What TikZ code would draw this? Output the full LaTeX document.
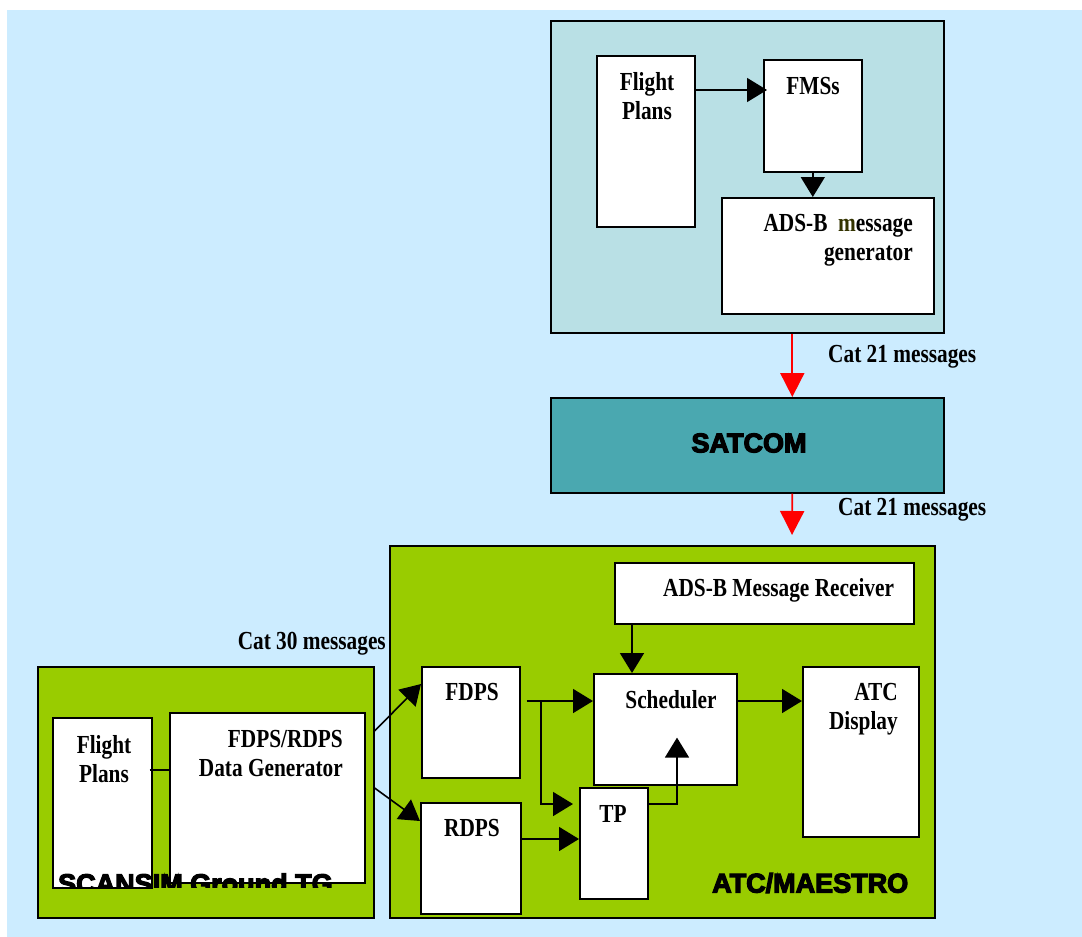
\documentclass[tikz,border=0pt]{standalone}
\usepackage{fontspec}
\usepackage{xcolor}
\usepackage{tikz}
\usetikzlibrary{arrows.meta,positioning,calc}
\newfontfamily\lblfont{Liberation Serif}[FakeStretch=0.82]
\newfontfamily\heavyfont{Liberation Sans}[FakeBold=4.5]
\definecolor{bgblue}{RGB}{204,236,255}
\definecolor{airteal}{RGB}{185,224,229}
\definecolor{satteal}{RGB}{74,168,176}
\definecolor{atcgreen}{RGB}{153,204,0}
\definecolor{molive}{RGB}{51,51,0}

\begin{document}
\begin{tikzpicture}[x=1pt,y=-1pt,
  blk/.style={draw=black,line width=1.6pt,fill=white,inner sep=0pt,anchor=north west},
  lbl/.style={font=\lblfont\bfseries\fontsize{26}{29}\selectfont,align=center,inner sep=0pt},
  heavy/.style={font=\heavyfont\bfseries\fontsize{27}{30}\selectfont,inner sep=0pt},
  arr/.style={line width=1.6pt,-{Triangle[length=20pt,width=24pt]}},
  redarr/.style={red,line width=1.8pt,-{Triangle[length=24pt,width=24pt]}}]
\useasboundingbox (0,0) rectangle (1082,937);
\fill[bgblue] (7,10) rectangle (1082,937);
\node[blk,fill=airteal,minimum width=393pt,minimum height=312pt] (air) at (550,20) {};
\node[blk,minimum width=98pt,minimum height=171pt] (fpA) at (596,55) {};
\node[blk,minimum width=98pt,minimum height=112pt] (fms) at (763,59) {};
\node[blk,minimum width=212pt,minimum height=116pt] (adsg) at (721,197) {};
\node[lbl,anchor=north] (fpAlbl) at (647,72) {Flight\\Plans};
\node[lbl,anchor=north] (fmslbl) at (813,77) {FMSs};
\node[lbl,align=right,anchor=north east] (adsglbl) at (913,214) {ADS-B \ \textcolor{molive}{m}essage\\generator};
\draw[arr] ($(fpA.north east)+(0,35)$) -- ($(fms.north west)+(4,31)$);
\draw[arr] (fms.south) -- (fms.south |- adsg.north);
\node[blk,fill=satteal,minimum width=393pt,minimum height=95pt] (satcom) at (550,397) {};
\node[heavy] (satlbl) at (749,443) {SATCOM};
\draw[redarr] ($(air.south)+(45,0)$) -- ($(satcom.north)+(45,0)$);
\node[lbl,anchor=west] (cat21a) at (828,357) {Cat 21 messages};
\coordinate (atcin) at (792,535);
\draw[redarr] ($(satcom.south)+(45,0)$) -- (atcin);
\node[lbl,anchor=west] (cat21b) at (838,510) {Cat 21 messages};
\node[blk,fill=atcgreen,minimum width=545pt,minimum height=372pt] (atc) at (389,545) {};
\node[blk,minimum width=299pt,minimum height=61pt] (adsr) at (614,562) {};
\node[blk,minimum width=98pt,minimum height=111pt] (fdps) at (421,666) {};
\node[blk,minimum width=100pt,minimum height=111pt] (rdps) at (420,802) {};
\node[blk,minimum width=143pt,minimum height=111pt] (sched) at (593,673) {};
\node[blk,minimum width=68pt,minimum height=111pt] (tp) at (579,787) {};
\node[blk,minimum width=116pt,minimum height=170pt] (disp) at (802,666) {};
\node[lbl,anchor=west] (adsrlbl) at (663,590) {ADS-B Message Receiver};
\node[lbl] (fdpslbl) at (472,692) {FDPS};
\node[lbl] (rdpslbl) at (472,828) {RDPS};
\node[lbl] (schedlbl) at (671,700) {Scheduler};
\node[lbl] (tplbl) at (613,814) {TP};
\node[lbl,align=right,anchor=north east] (displbl) at (898,683) {ATC\\Display};
\node[heavy,anchor=west] (atclbl) at (712,883) {ATC/MAESTRO};
\coordinate (fdpsout) at ($(fdps.north east)+(6,35)$);
\coordinate (br) at (541,701);
\draw[arr] ($(adsr.south west)+(18,0)$) -- ($(sched.north west)+(39,0)$);
\draw[arr] (fdpsout) -- (fdpsout -| sched.west);
\draw[arr] (br) |- ($(tp.north west)+(-6,17)$);
\draw[arr] ($(rdps.north east)+(0,37)$) -- ($(tp.north west)+(0,52)$);
\draw[arr] ($(tp.north east)+(0,17)$) -| ($(sched.south west)+(84,-48)$);
\draw[arr] ($(sched.north east)+(0,28)$) -- ($(disp.north west)+(0,35)$);
\node[blk,fill=atcgreen,minimum width=336pt,minimum height=251pt] (scan) at (37,666) {};
\node[blk,minimum width=99pt,minimum height=170pt] (fpB) at (52,717) {};
\node[blk,minimum width=195pt,minimum height=170pt] (gen) at (169,712) {};
\node[lbl,anchor=north] (fpBlbl) at (104,735) {Flight\\Plans};
\node[lbl,align=right,anchor=north east] (genlbl) at (343,730) {FDPS/RDPS\\Data Generator};
\draw[line width=1.6pt] ($(fpB.north east)+(-3,53)$) -- ($(gen.north west)+(0,58)$);
\begin{scope}
\clip (37,860) rectangle (373,887);
\node[heavy,anchor=base west] (scanlbl) at (58,893) {SCANSIM Ground TG};
\end{scope}
\node[lbl,anchor=east] (cat30) at (386,644) {Cat 30 messages};
\draw[arr] ($(scan.north east)+(0,65)$) -- ($(fdps.north west)+(0,18)$);
\draw[arr] ($(scan.north east)+(0,122)$) -- ($(rdps.north west)+(0,19)$);
\end{tikzpicture}
\end{document}
